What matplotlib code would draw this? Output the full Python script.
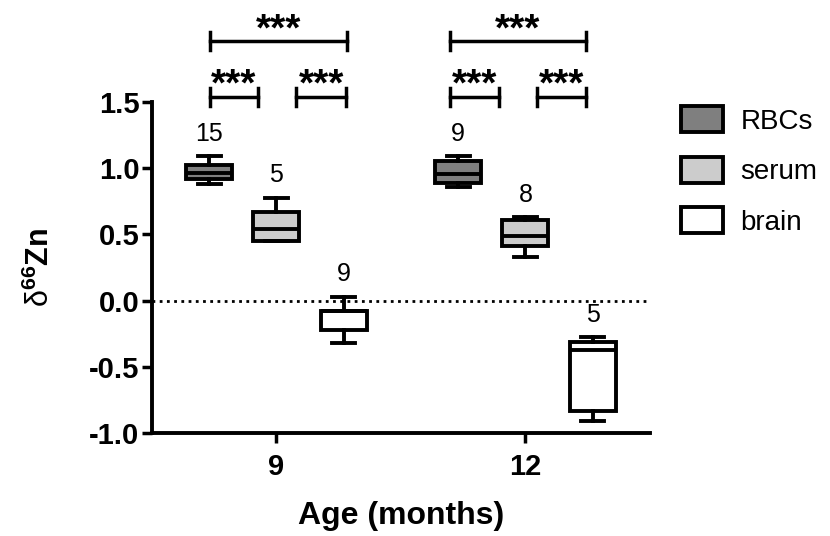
import numpy as np
import matplotlib
matplotlib.use('Agg')
import matplotlib.pyplot as plt
from matplotlib.patches import Patch

plt.rcParams['font.family'] = ['Liberation Sans', 'DejaVu Sans']
plt.rcParams['mathtext.fontset'] = 'custom'
plt.rcParams['mathtext.rm'] = 'Liberation Sans'
plt.rcParams['mathtext.bf'] = 'Liberation Sans:bold'

# ========== Data ==========
ages = ['9', '12']
tissues = ['RBCs', 'serum', 'brain']
colors = ['#7f7f7f', '#cccccc', '#ffffff']

# per age, per tissue: whislo, q1, med, q3, whishi
whislo = [[0.88, 0.447, -0.32], [0.855, 0.327, -0.91]]
q1 = [[0.92, 0.447, -0.22], [0.888, 0.415, -0.835]]
med = [[0.963, 0.54, -0.08], [0.955, 0.49, -0.375]]
q3 = [[1.026, 0.666, -0.075], [1.05, 0.61, -0.31]]
whishi = [[1.09, 0.775, 0.03], [1.09, 0.628, -0.277]]
n_samples = [[15, 5, 9], [9, 8, 5]]

# significance brackets: (x_start, x_end, y)
sig_bars = [(-0.268, 0.284, 1.96), (-0.268, -0.072, 1.54), (0.08, 0.28, 1.54),
            (0.696, 1.244, 1.96), (0.696, 0.896, 1.54), (1.048, 1.244, 1.54)]
sig_labels = ['***'] * 6

offsets = [-0.27, 0.0, 0.27]
box_w = 0.184

fig = plt.figure(figsize=(8.3, 5.36), dpi=100)
ax = fig.add_axes([0.183, 0.192, 0.6, 0.618])

for gi in range(len(ages)):
    for ti in range(len(tissues)):
        stats = [dict(whislo=whislo[gi][ti], q1=q1[gi][ti], med=med[gi][ti],
                      q3=q3[gi][ti], whishi=whishi[gi][ti])]
        pos = gi + offsets[ti]
        ax.bxp(stats, positions=[pos], widths=box_w, showfliers=False,
               patch_artist=True, manage_ticks=False,
               boxprops=dict(facecolor=colors[ti], edgecolor='black', linewidth=2.8),
               medianprops=dict(color='black', linewidth=2.8),
               whiskerprops=dict(color='black', linewidth=2.8),
               capprops=dict(color='black', linewidth=2.8),
               capwidths=box_w * 0.5)
        ax.text(pos, whishi[gi][ti] + 0.08, str(n_samples[gi][ti]), ha='center',
                va='bottom', fontsize=18)

# zero reference line
ax.axhline(0, color='black', linestyle=(0, (1, 1.6)), linewidth=2, zorder=0)

# significance brackets
for (x0, x1, y), lab in zip(sig_bars, sig_labels):
    ax.plot([x0, x1], [y, y], color='black', lw=2.5, clip_on=False)
    for xx in (x0, x1):
        ax.plot([xx, xx], [y - 0.068, y + 0.068], color='black', lw=2.5, clip_on=False)
    ax.text((x0 + x1) / 2, y - 0.055, lab, ha='center', va='bottom', fontsize=28,
            fontweight='bold', clip_on=False)

ax.set_xlim(-0.5, 1.5)
ax.set_ylim(-1.0, 1.5)
ax.set_xticks([0, 1])
ax.set_xticklabels(ages)
ax.set_yticks(np.arange(-1.0, 1.51, 0.5))
ax.set_yticklabels([f'{v:.1f}' for v in np.arange(-1.0, 1.51, 0.5)])
for lab in ax.get_xticklabels() + ax.get_yticklabels():
    lab.set_fontweight('bold')
    lab.set_fontsize(21)
ax.tick_params(axis='both', width=2.5, length=7, direction='out')
ax.tick_params(axis='y', pad=2)
ax.tick_params(axis='x', pad=7)

for s in ['top', 'right']:
    ax.spines[s].set_visible(False)
for s in ['left', 'bottom']:
    ax.spines[s].set_linewidth(2.8)

ax.set_xlabel('Age (months)', fontsize=23, fontweight='bold', labelpad=15)
ax.set_ylabel(r'$\mathrm{δ}^{\mathbf{66}}$Zn', fontsize=22, fontweight='bold', labelpad=24)

handles = [Patch(facecolor=c, edgecolor='black', linewidth=2.8) for c in colors]
ax.legend(handles, tissues, loc='upper left', bbox_to_anchor=(1.04, 1.02),
          frameon=False, fontsize=20, handlelength=1.5, handleheight=1.05,
          labelspacing=0.8, handletextpad=0.65, borderaxespad=0)

fig.savefig('out.png', dpi=100)
